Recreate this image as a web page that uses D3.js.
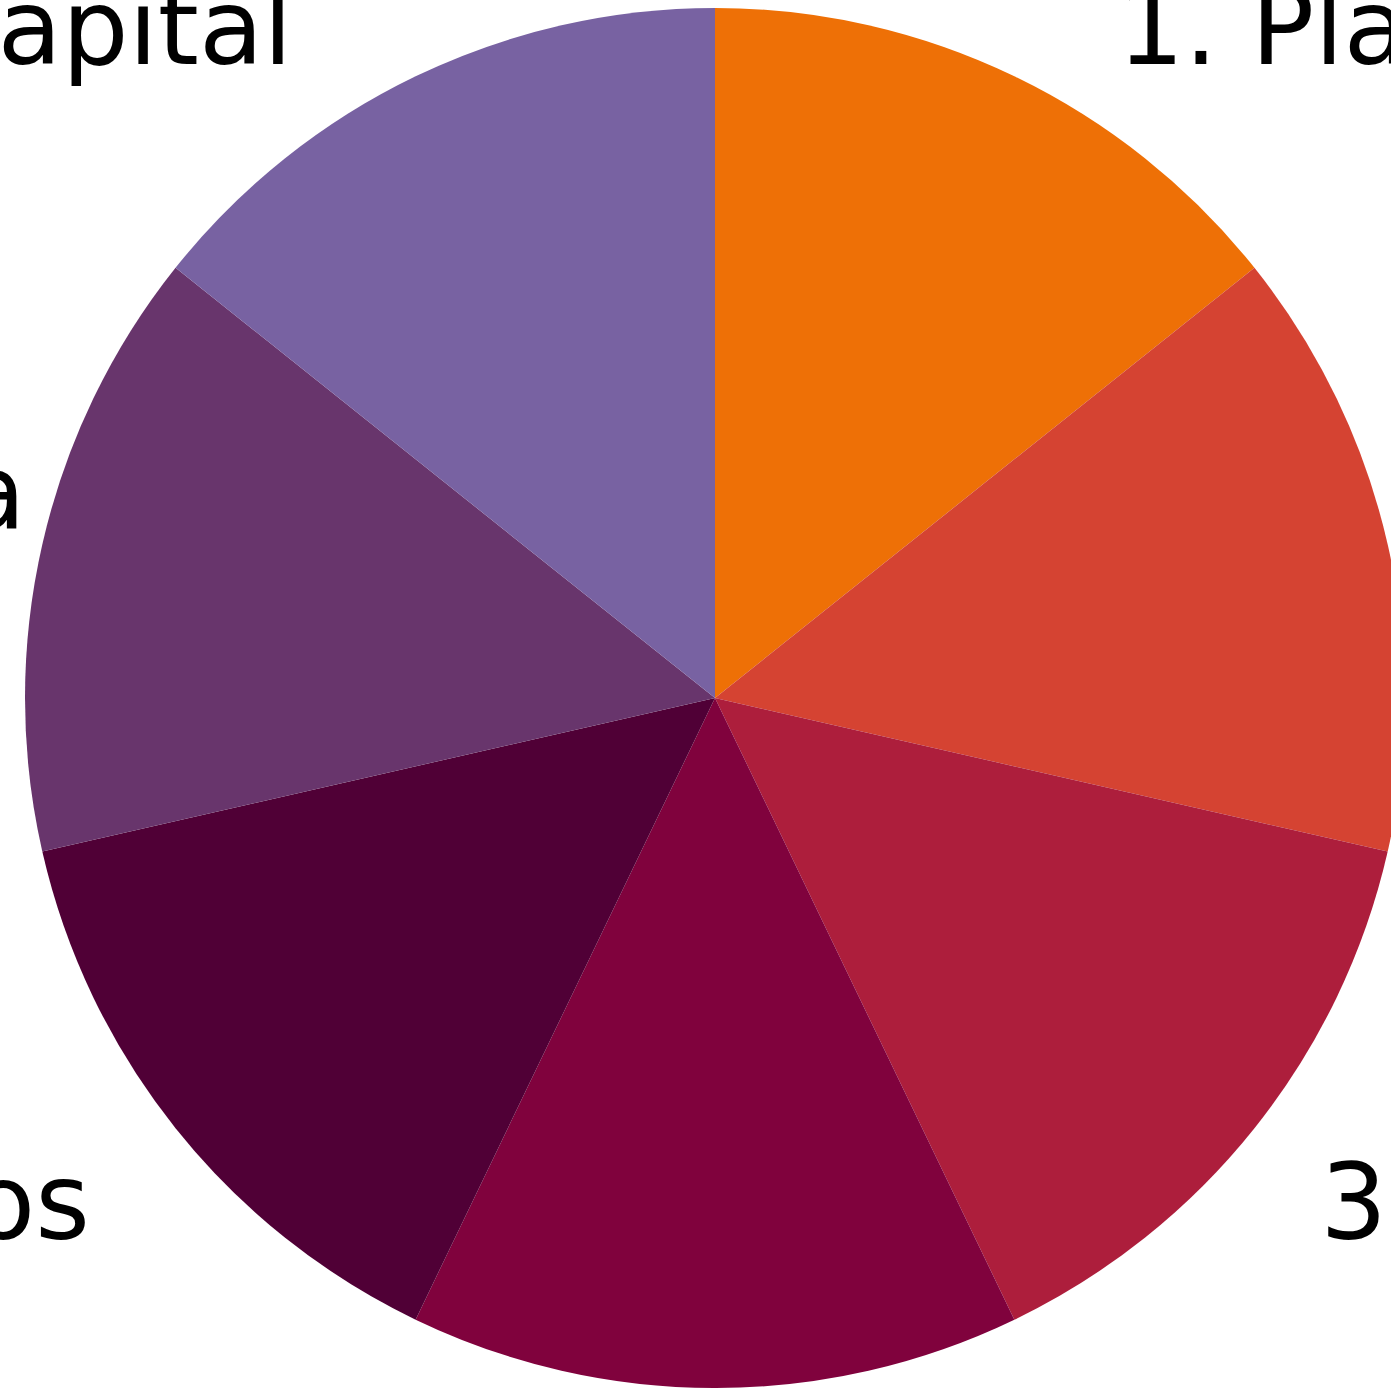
<!DOCTYPE html>
<html>
<head>
<meta charset="utf-8">
<script src="https://cdn.jsdelivr.net/npm/d3@7"></script>
<style>
  html, body { margin: 0; padding: 0; background: #ffffff; overflow: hidden; }
  svg { display: block; }
</style>
</head>
<body>
<svg id="chart"></svg>
<script>
// Seven equal stages of the cycle, drawn clockwise from the top.
const categories = [
  "1. Planificación",
  "2. Mercadeo",
  "3. Operaciones",
  "4. Finanzas",
  "5. Recursos Humanos",
  "6. Tecnología",
  "7. Capital"
];
const values = [1, 1, 1, 1, 1, 1, 1];
const colors = ["#ee7006", "#d54332", "#ad1e3c", "#80023d", "#500036", "#68356c", "#7862a2"];

const width = 1391, height = 1388;
const cx = 715, cy = 698;
const radius = 690;
const fontSize = 105;

const svg = d3.select("#chart")
  .attr("width", width)
  .attr("height", height);

const g = svg.append("g").attr("transform", `translate(${cx},${cy})`);

const data = categories.map((c, i) => ({ name: c, value: values[i], color: colors[i] }));

const pie = d3.pie().sort(null).value(d => d.value);
const arc = d3.arc().innerRadius(0).outerRadius(radius);
const arcs = pie(data);

g.selectAll("path.slice")
  .data(arcs)
  .join("path")
  .attr("class", "slice")
  .attr("d", arc)
  .attr("fill", d => d.data.color);

// Labels ride an oval around the rim: start-anchored on the right, end-anchored on the left.
function labelPos(d) {
  const mid = (d.startAngle + d.endAngle) / 2;
  const s = Math.sin(mid), c = Math.cos(mid);
  const side = s >= 0 ? 1 : -1;
  const x = side * (240 + 457 * Math.abs(s) - 28.6 * c) - 10;
  const y = -805 * c + 156 - 150 * Math.abs(s);
  return { x, y, anchor: side > 0 ? "start" : "end" };
}

g.selectAll("text.label")
  .data(arcs)
  .join("text")
  .attr("class", "label")
  .attr("font-family", "'DejaVu Sans', sans-serif")
  .attr("font-size", fontSize)
  .attr("fill", "#000")
  .each(function (d) {
    const p = labelPos(d);
    d3.select(this)
      .attr("x", p.x)
      .attr("y", p.y)
      .attr("text-anchor", p.anchor)
      .text(d.data.name);
  });
</script>
</body>
</html>
